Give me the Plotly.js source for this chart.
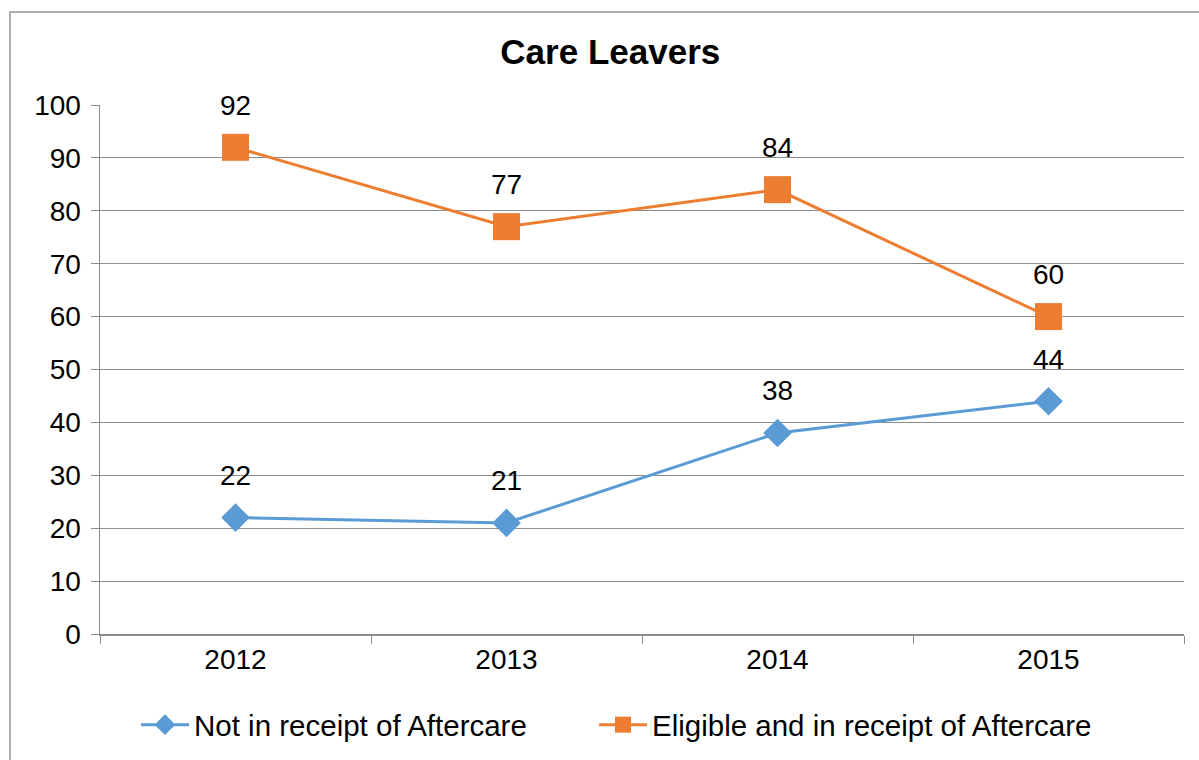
<!DOCTYPE html>
<html>
<head>
<meta charset="utf-8">
<script src="https://cdn.plot.ly/plotly-3.0.1.min.js"></script>
<style>
html,body{margin:0;padding:0;background:#fff;}
#frame{position:absolute;left:9px;top:11px;width:1400px;height:900px;border-left:2px solid #b0b0b0;border-top:2px solid #b0b0b0;box-sizing:border-box;}
#chart{position:absolute;left:0;top:0;width:1199px;height:760px;}
</style>
</head>
<body>
<div id="frame"></div>
<div id="chart"></div>
<script>
var years = ['2012', '2013', '2014', '2015'];
var notInReceipt = [22, 21, 38, 44];
var eligibleInReceipt = [92, 77, 84, 60];
var seriesNames = ['Not in receipt of Aftercare', 'Eligible and in receipt of Aftercare'];
var yTicks = [0, 10, 20, 30, 40, 50, 60, 70, 80, 90, 100];

var FONT = '"Liberation Sans", Arial, sans-serif';
var BLUE = '#5B9BD5', ORANGE = '#ED7D31', GRID = '#8c8c8c';

var traces = [
  {
    x: years, y: notInReceipt, name: seriesNames[0], type: 'scatter', mode: 'lines+markers',
    line: {color: BLUE, width: 3},
    marker: {symbol: 'diamond', size: 22, color: BLUE},
    legend: 'legend'
  },
  {
    x: years, y: eligibleInReceipt, name: seriesNames[1], type: 'scatter', mode: 'lines+markers',
    line: {color: ORANGE, width: 3},
    marker: {symbol: 'square', size: 27, color: ORANGE},
    legend: 'legend2'
  }
];

var annotations = [];
[notInReceipt, eligibleInReceipt].forEach(function (arr) {
  arr.forEach(function (v, i) {
    annotations.push({
      x: i, y: v, xref: 'x', yref: 'y', text: String(v), showarrow: false,
      yanchor: 'middle', yshift: 42, font: {family: FONT, size: 28, color: '#000'}
    });
  });
});

function legendAt(px) {
  return {orientation: 'h', xref: 'container', yref: 'container', x: px / 1199, xanchor: 'left',
          y: 1 - 725 / 760, yanchor: 'middle', itemwidth: 48,
          font: {family: FONT, size: 29.5, color: '#000'}, bgcolor: 'rgba(0,0,0,0)'};
}

var layout = {
  width: 1199, height: 760,
  margin: {l: 100, r: 15, t: 105, b: 126},
  paper_bgcolor: 'rgba(0,0,0,0)', plot_bgcolor: 'rgba(0,0,0,0)',
  font: {family: FONT, size: 28, color: '#000'},
  title: {text: '<b>Care Leavers</b>', font: {family: FONT, size: 35, color: '#000'},
          xref: 'container', x: 0.509, xanchor: 'center', yref: 'container', y: 1 - 52 / 760, yanchor: 'middle'},
  xaxis: {
    type: 'category', range: [-0.5, 3.5], tickson: 'boundaries', ticks: 'outside', ticklen: 8,
    tickcolor: GRID, showline: true, linecolor: GRID, linewidth: 1.5, showgrid: false, zeroline: false,
    tickfont: {family: FONT, size: 28, color: '#000'}
  },
  yaxis: {
    range: [0, 100], tickvals: yTicks, ticks: 'outside', ticklen: 8, tickcolor: GRID,
    showline: true, linecolor: GRID, linewidth: 1.5, showgrid: true, gridcolor: GRID, gridwidth: 1,
    zeroline: false, tickfont: {family: FONT, size: 28, color: '#000'}, ticklabelstandoff: 4
  },
  showlegend: true,
  legend: legendAt(136),
  legend2: legendAt(594),
  annotations: annotations
};

Plotly.newPlot('chart', traces, layout, {displayModeBar: false, staticPlot: true});
</script>
</body>
</html>
